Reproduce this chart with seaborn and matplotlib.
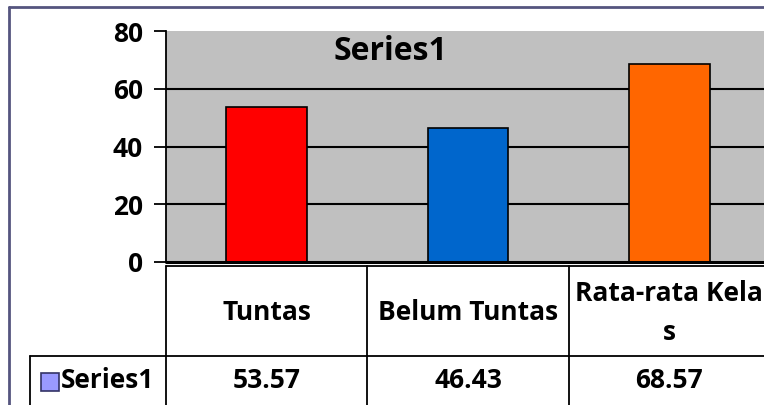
import matplotlib
matplotlib.use("Agg")
import matplotlib.pyplot as plt
import matplotlib.transforms as mtransforms
import pandas as pd
import seaborn as sns

# Données du graphique
categories = ["Tuntas", "Belum Tuntas", "Rata-rata Kelas"]
header_labels = ["Tuntas", "Belum Tuntas", "Rata-rata Kela\ns"]
values = [53.57, 46.43, 68.57]
series_name = "Series1"
bar_colors = ["#ff0000", "#0066cc", "#ff6600"]
y_ticks = [0, 20, 40, 60, 80]

df = pd.DataFrame({"kategori": categories, "nilai": values})

sns.set_style("white", {"axes.facecolor": "#c0c0c0", "text.color": "black",
                        "ytick.color": "black", "ytick.left": True})
plt.rcParams["font.family"] = ["Open Sans", "DejaVu Sans"]

W, H = 764, 405
fig = plt.figure(figsize=(W / 100, H / 100), dpi=100)
fig.patch.set_facecolor("white")

# axe "pixels" pour le cadre et le tableau
over = fig.add_axes([0, 0, 1, 1], zorder=0)
over.set_xlim(0, W)
over.set_ylim(H, 0)
over.axis("off")

# axe principal des barres
left, right, top, bottom = 166, 770, 31, 262
ax = fig.add_axes([left / W, (H - bottom) / H, (right - left) / W, (bottom - top) / H], zorder=1)
sns.barplot(data=df, x="kategori", y="nilai", hue="kategori", palette=bar_colors,
            saturation=1, width=0.4, edgecolor="black", linewidth=1.2, legend=False, ax=ax)
ax.set_xlim(-0.5, len(categories) - 0.5)
ax.set_ylim(0, 80)
ax.set_yticks(y_ticks)
ax.set_yticklabels([str(t) for t in y_ticks], fontsize=19, fontweight="bold", color="black")
ax.set_xticks([])
ax.set_xlabel("")
ax.set_ylabel("")
for t in y_ticks[1:-1]:
    ax.axhline(t, color="black", lw=1.5, zorder=0.5)
ax.tick_params(axis="y", left=True, direction="out", length=8.6, width=1.3,
               color="black", labelcolor="black", pad=8)
for s in ["top", "right", "bottom"]:
    ax.spines[s].set_visible(False)
ax.spines["left"].set_color("black")
ax.spines["left"].set_linewidth(1.3)
ax.axhline(0, color="black", lw=2.2, clip_on=False, zorder=3)

# titre
fig.text(390 / W, 1 - 51 / H, series_name, ha="center", va="center",
         fontsize=23, fontweight="bold", color="black")

# cadre extérieur
frame_c = "#55557f"
over.plot([9, W + 5], [7, 7], color=frame_c, lw=2)
over.plot([9, 9], [7, H + 5], color=frame_c, lw=2)

# tableau de données (x en coordonnées de données de l'axe principal)
tr = mtransforms.blended_transform_factory(ax.transData, over.transData)
n = len(categories)
t_top, t_mid, t_bot = 266, 356, 406
over.plot([-0.5, n - 0.5], [t_top, t_top], color="black", lw=1.3, transform=tr, clip_on=False)
over.plot([30, W + 5], [t_mid, t_mid], color="black", lw=1.3, clip_on=False)
over.plot([30, 30], [t_mid, t_bot], color="black", lw=1.3, clip_on=False)
for i in range(n + 1):
    over.plot([i - 0.5, i - 0.5], [t_top, t_bot], color="black", lw=1.3, transform=tr, clip_on=False)
for i, (lab, v) in enumerate(zip(header_labels, values)):
    over.text(i, (t_top + t_mid) / 2 + 2, lab, transform=tr, ha="center", va="center",
              fontsize=19, fontweight="bold", linespacing=1.55, color="black")
    over.text(i, (t_mid + t_bot) / 2 - 1, f"{v:.2f}", transform=tr, ha="center", va="center",
              fontsize=19, fontweight="bold", color="black")

# clé de légende et nom de la série
over.add_patch(plt.Rectangle((41, 373), 18, 18, facecolor="#9999ff", edgecolor="#333366", lw=1.2))
over.text(61, (t_mid + t_bot) / 2 - 1, series_name, ha="left", va="center",
          fontsize=19, fontweight="bold", color="black")

fig.savefig("out.png", dpi=100)
